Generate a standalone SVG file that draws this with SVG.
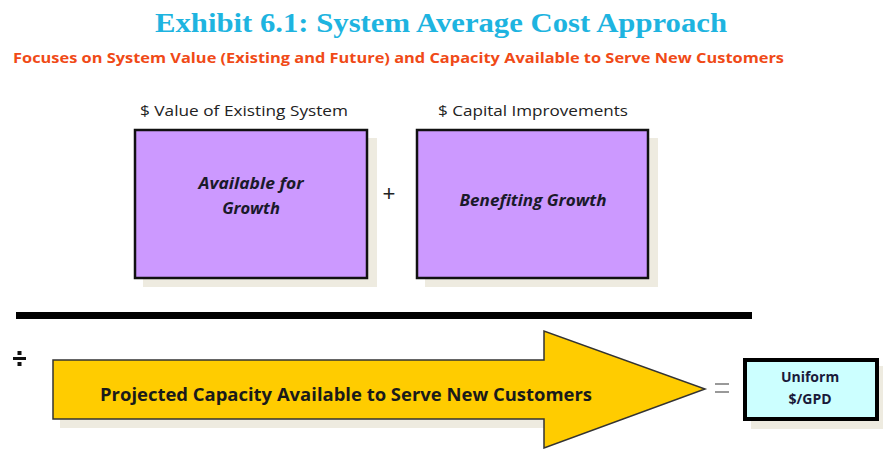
<svg xmlns="http://www.w3.org/2000/svg" width="883" height="449" viewBox="0 0 883 449">
  <style>
    .title { font-family: "Liberation Serif", "DejaVu Serif", serif; font-weight: bold; font-size: 27px; fill: #1eb4e0; }
    .subtitle { font-family: "Open Sans", "Liberation Sans", sans-serif; font-weight: bold; font-size: 14px; fill: #f04a17; }
    .caption { font-family: "Open Sans", "Liberation Sans", sans-serif; font-size: 15px; fill: #222; }
    .boxlabel { font-family: "Open Sans", "Liberation Sans", sans-serif; font-weight: bold; font-style: italic; font-size: 16.5px; fill: #1a1a2a; }
    .arrowlabel { font-family: "Open Sans", "Liberation Sans", sans-serif; font-weight: bold; font-size: 17px; fill: #1a1a1a; }
    .resultlabel { font-family: "Open Sans", "Liberation Sans", sans-serif; font-weight: bold; font-size: 14px; fill: #1a1a3a; }
    .op { font-family: "Liberation Sans", sans-serif; font-size: 22px; fill: #222; }
    .shadow { fill: #eeebe0; }
    .valuebox { fill: #cc99ff; stroke: #111; stroke-width: 2.5; }
  </style>

  <!-- headings -->
  <text class="title" x="441" y="32" text-anchor="middle" textLength="572" lengthAdjust="spacingAndGlyphs">Exhibit 6.1: System Average Cost Approach</text>
  <text class="subtitle" x="13" y="63" textLength="771" lengthAdjust="spacingAndGlyphs">Focuses on System Value (Existing and Future) and Capacity Available to Serve New Customers</text>

  <!-- numerator: existing system value -->
  <g id="existing-system">
    <text class="caption" x="244" y="116" text-anchor="middle" textLength="208" lengthAdjust="spacingAndGlyphs">$ Value of Existing System</text>
    <rect class="shadow" x="143" y="138" width="234" height="149"/>
    <rect class="valuebox" x="135" y="130" width="232" height="148"/>
    <text class="boxlabel" x="251" y="189" text-anchor="middle" textLength="105" lengthAdjust="spacingAndGlyphs">Available for</text>
    <text class="boxlabel" x="251" y="214" text-anchor="middle">Growth</text>
  </g>

  <text class="op" x="389" y="201" text-anchor="middle">+</text>

  <!-- numerator: capital improvements -->
  <g id="capital-improvements">
    <text class="caption" x="533" y="116" text-anchor="middle" textLength="190" lengthAdjust="spacingAndGlyphs">$ Capital Improvements</text>
    <rect class="shadow" x="425" y="138" width="233" height="149"/>
    <rect class="valuebox" x="417" y="130" width="231" height="148"/>
    <text class="boxlabel" x="533" y="206" text-anchor="middle" textLength="147" lengthAdjust="spacingAndGlyphs">Benefiting Growth</text>
  </g>

  <!-- fraction bar -->
  <rect x="16" y="312" width="736" height="7" fill="#000"/>

  <!-- division sign -->
  <g id="divide" fill="#111">
    <rect x="13" y="357" width="13" height="3"/>
    <rect x="17.5" y="351" width="4" height="4"/>
    <rect x="17.5" y="362" width="4" height="4"/>
  </g>

  <!-- denominator: projected capacity -->
  <g id="projected-capacity">
    <rect class="shadow" x="60" y="419" width="484" height="9"/>
    <polygon points="53,360 544,360 544,331 705,389 544,448 544,419 53,419" fill="#ffcc00" stroke="#333" stroke-width="1.5" stroke-linejoin="miter"/>
    <text class="arrowlabel" x="346" y="401" text-anchor="middle" textLength="492" lengthAdjust="spacingAndGlyphs">Projected Capacity Available to Serve New Customers</text>
  </g>

  <!-- equals sign -->
  <g id="equals" fill="#999">
    <rect x="715" y="383" width="14" height="2"/>
    <rect x="715" y="391" width="14" height="2"/>
  </g>

  <!-- result -->
  <g id="uniform-cost">
    <rect class="shadow" x="751" y="366" width="132" height="63"/>
    <rect x="745" y="360" width="132" height="59" fill="#ccffff" stroke="#000" stroke-width="4"/>
    <text class="resultlabel" x="810" y="382" text-anchor="middle">Uniform</text>
    <text class="resultlabel" x="810" y="404" text-anchor="middle">$/GPD</text>
  </g>
</svg>
